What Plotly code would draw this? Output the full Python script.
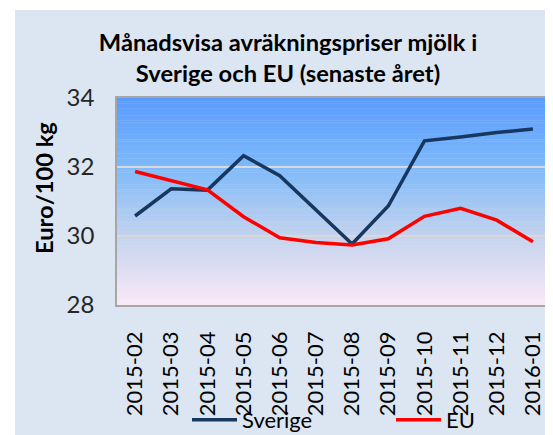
import plotly.graph_objects as go

months = ["2015-02", "2015-03", "2015-04", "2015-05", "2015-06", "2015-07",
          "2015-08", "2015-09", "2015-10", "2015-11", "2015-12", "2016-01"]
sverige = [30.58, 31.37, 31.33, 32.33, 31.75, 30.77, 29.77, 30.87, 32.76, 32.87, 33.00, 33.10]
eu = [31.87, 31.60, 31.34, 30.56, 29.95, 29.81, 29.74, 29.92, 30.57, 30.80, 30.46, 29.83]

y_ticks = [28, 30, 32, 34]

FONT = "Lato"
OFF = 8  # page body margin
W, H = 553 - OFF, 435 - OFF
ML, MR, MT, MB = 117 - OFF, 2, 98 - OFF, 130
PW = W - ML - MR
PH = H - MT - MB

fig = go.Figure()
fig.add_trace(go.Scatter(x=months, y=sverige, mode="lines", name="Sverige",
                         line=dict(color="#17375E", width=3.5)))
fig.add_trace(go.Scatter(x=months, y=eu, mode="lines", name="EU",
                         line=dict(color="#FF0000", width=3.5)))

shapes = []
# outer light panel (screen x from 15, y from 10)
shapes.append(dict(type="rect", xref="paper", yref="paper",
                   x0=(15 - OFF - ML) / PW, x1=(W - ML + 5) / PW,
                   y0=-(MB + 5) / PH, y1=(PH + MT - (10 - OFF)) / PH,
                   fillcolor="#DCE6F2", line=dict(width=0), layer="below"))

# vertical gradient plot background
stops = [(0.0, (90, 155, 255)), (0.33, (125, 185, 250)),
         (0.67, (196, 211, 238)), (1.0, (250, 233, 247))]

def col(t):
    for (t0, c0), (t1, c1) in zip(stops[:-1], stops[1:]):
        if t0 <= t <= t1:
            f = (t - t0) / (t1 - t0)
            return "rgb(%d,%d,%d)" % tuple(round(a + (b - a) * f) for a, b in zip(c0, c1))
    return "rgb(%d,%d,%d)" % stops[-1][1]

N = 120
for i in range(N):
    t = (i + 0.5) / N
    shapes.append(dict(type="rect", xref="paper", yref="paper",
                       x0=0, x1=1, y0=1 - (i + 1) / N - 0.002, y1=1 - i / N,
                       fillcolor=col(t), line=dict(width=0), layer="below"))

fig.update_layout(
    width=W, height=H,
    margin=dict(l=ML, r=MR, t=MT, b=MB, autoexpand=False),
    paper_bgcolor="white",
    plot_bgcolor="rgba(0,0,0,0)",
    shapes=shapes,
    font=dict(family=FONT, color="#000000"),
    title=dict(text="Månadsvisa avräkningspriser mjölk i<br>Sverige och EU (senaste året)",
               font=dict(family=FONT, size=23.7, color="#000000", weight="bold"),
               x=(288 - OFF) / W, xref="container", xanchor="center",
               y=1 - 43 / H, yref="container", yanchor="top"),
    showlegend=True,
    legend=dict(orientation="h", xref="container", x=(187 - OFF) / W, xanchor="left",
                yref="container", y=(435 - 420) / H, yanchor="middle",
                bgcolor="rgba(0,0,0,0)", font=dict(family=FONT, size=22, color="#000000"),
                itemwidth=45, entrywidth=144, entrywidthmode="pixels",
                traceorder="normal"),
    annotations=[dict(text="<b>Euro/100 kg</b>", textangle=-90,
                      xref="paper", yref="paper",
                      x=(44 - 117) / PW, y=(305 - 188) / PH,
                      xanchor="center", yanchor="middle", showarrow=False,
                      font=dict(family=FONT, size=23.7, color="#000000"))],
)

fig.update_xaxes(type="category", categoryorder="array", categoryarray=months,
                 range=[-0.5, len(months) - 0.5], automargin=False,
                 showgrid=False, showline=True, linecolor="#A6A6A6", linewidth=1.5,
                 mirror=True, ticks="", tickangle=-90,
                 tickfont=dict(family=FONT, size=22, color="#000000"),
                 ticklabelstandoff=16, zeroline=False)
fig.update_yaxes(range=[28, 34], tickvals=y_ticks, showgrid=True, automargin=False,
                 gridcolor="#D9D9D9", gridwidth=1.5,
                 showline=True, linecolor="#A6A6A6", linewidth=1.5, mirror=True,
                 ticks="", tickfont=dict(family=FONT, size=24, color="#262626"),
                 ticklabelstandoff=16, zeroline=False)

fig.write_html("out.html")
